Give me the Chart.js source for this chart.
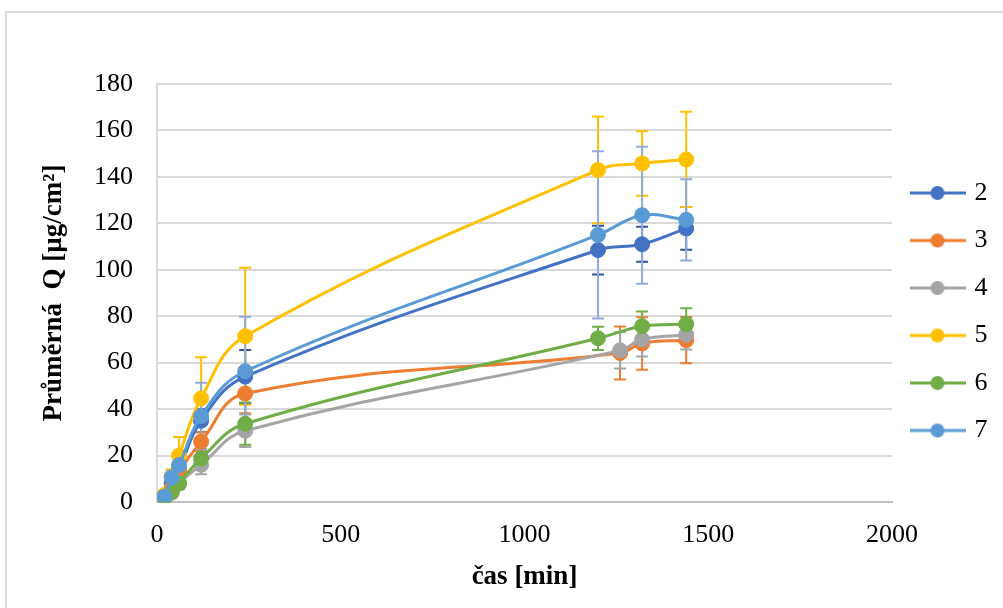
<!DOCTYPE html>
<html>
<head>
<meta charset="utf-8">
<script src="https://cdn.jsdelivr.net/npm/chart.js@4/dist/chart.umd.min.js"></script>
<style>
  html, body { margin: 0; padding: 0; background: #fff; overflow: hidden; }
  #frame { position: absolute; left: 5px; top: 11px; width: 1100px; height: 700px; border: 2px solid #d9d9d9; }
  #myChart { position: absolute; left: 0; top: 0; }
</style>
</head>
<body>
<div id="frame"></div>
<canvas id="myChart" width="1003" height="608"></canvas>
<script>
"use strict";

// time points [min]
const timesA = [20, 40, 60, 120, 240, 1200, 1320, 1440];
const timesB = [20, 40, 60, 120, 240, 1260, 1320, 1440];

// mean Q per series and its error (sd)
const q2 = [2, 8, 14, 35, 54, 108.5, 111, 117.8];
const e2 = [1, 2, 3, 5, 11.5, 10.5, 7.5, 9.2];
const q3 = [1.5, 6, 13, 26, 46.7, 64.2, 68.3, 69.7];
const e3 = [1, 2, 3, 4, 8.5, 11.4, 11.3, 10];
const q4 = [1, 4, 8, 16, 30.7, 65.3, 70, 72];
const e4 = [1, 1.5, 2.5, 4, 7, 7.8, 7.3, 6.3];
const q5 = [3, 11, 20, 44.6, 71.4, 143, 145.8, 147.5];
const e5 = [1, 3, 8, 17.7, 29.5, 23, 13.9, 20.5];
const q6 = [1, 4.4, 8, 18.8, 33.7, 70.5, 75.7, 76.6];
const e6 = [1, 1.5, 2, 4, 9.1, 5, 6.3, 6.8];
const q7 = [2.3, 10.6, 15.9, 37, 56.3, 115, 123.5, 121.5];
const e7 = [1, 3, 5, 14.4, 23.5, 36, 29.5, 17.5];

const seriesNames = ["2", "3", "4", "5", "6", "7"];
const xTicks = [0, 500, 1000, 1500, 2000];
const yTicks = [0, 20, 40, 60, 80, 100, 120, 140, 160, 180];

const colors = ["#4472c4", "#ed7d31", "#a5a5a5", "#ffc000", "#70ad47", "#5b9bd5"];
const errColors = ["#2f5597", "#ed7d31", "#a5a5a5", "#ffc000", "#70ad47", "#8faadc"];
const serif = "'Liberation Serif', 'Times New Roman', serif";

window.addEventListener("DOMContentLoaded", init);

function init() {
  const allQ = [q2, q3, q4, q5, q6, q7];
  const allE = [e2, e3, e4, e5, e6, e7];
  const allT = [timesA, timesB, timesB, timesA, timesA, timesA];

  const datasets = [];
  for (let i = 0; i < seriesNames.length; i++) {
    const pts = [];
    for (let j = 0; j < allQ[i].length; j++) {
      pts.push({ x: allT[i][j], y: allQ[i][j], err: allE[i][j] });
    }
    datasets.push({
      label: seriesNames[i],
      data: pts,
      order: seriesNames.length - i, // later series on top, like excel
      showLine: true,
      tension: 0.4,
      borderColor: colors[i],
      backgroundColor: colors[i],
      borderWidth: 3,
      pointRadius: 7.5,
      pointBorderWidth: 1,
      pointBorderColor: colors[i],
      pointBackgroundColor: colors[i],
      errColor: errColors[i],
    });
  }

  // legend marker: short line with dot in the middle
  function legendIcon(color) {
    const c = document.createElement("canvas");
    c.width = 56;
    c.height = 16;
    const g = c.getContext("2d");
    g.strokeStyle = color;
    g.lineWidth = 3;
    g.beginPath();
    g.moveTo(0, 8);
    g.lineTo(56, 8);
    g.stroke();
    g.fillStyle = color;
    g.beginPath();
    g.arc(28, 8, 7, 0, Math.PI * 2);
    g.fill();
    return c;
  }
  const icons = colors.map(legendIcon);

  const errorBars = {
    id: "errorBars",
    beforeDatasetsDraw(chart) {
      const ctx = chart.ctx;
      const xs = chart.scales.x;
      const ys = chart.scales.y;
      ctx.save();
      chart.data.datasets.forEach((ds) => {
        ctx.strokeStyle = ds.errColor;
        ctx.lineWidth = 2;
        for (let p of ds.data) {
          const px = xs.getPixelForValue(p.x);
          const top = ys.getPixelForValue(p.y + p.err);
          const bot = ys.getPixelForValue(Math.max(0, p.y - p.err));
          ctx.beginPath();
          ctx.moveTo(px, top);
          ctx.lineTo(px, bot);
          ctx.moveTo(px - 6, top);
          ctx.lineTo(px + 6, top);
          ctx.moveTo(px - 6, bot);
          ctx.lineTo(px + 6, bot);
          ctx.stroke();
        }
      });
      ctx.restore();
    },
  };

  const ctx = document.getElementById("myChart").getContext("2d");
  new Chart(ctx, {
    type: "scatter",
    data: { datasets: datasets },
    plugins: [errorBars],
    options: {
      responsive: false,
      animation: false,
      layout: { padding: { left: 10, right: 5.5, top: 84, bottom: 14.8 } },
      plugins: {
        tooltip: { enabled: false },
        legend: {
          position: "right",
          align: "start",
          title: { display: true, text: " ", font: { size: 10 }, padding: { top: 31.25, bottom: 31.25 } },
          labels: {
            usePointStyle: true,
            pointStyleWidth: 48,
            padding: 21.5,
            color: "#000",
            font: { family: serif, size: 26 },
            sort: (a, b) => a.datasetIndex - b.datasetIndex,
            generateLabels(chart) {
              const items = Chart.defaults.plugins.legend.labels.generateLabels(chart);
              items.forEach((it) => { it.pointStyle = icons[it.datasetIndex]; });
              return items;
            },
          },
        },
      },
      scales: {
        x: {
          type: "linear",
          min: 0,
          max: 2000,
          afterBuildTicks(axis) { axis.ticks = xTicks.map((v) => ({ value: v })); },
          grid: { display: false, drawTicks: false },
          border: { display: true, color: "#bfbfbf", width: 2 },
          ticks: {
            color: "#000",
            padding: 18,
            font: { family: serif, size: 26 },
            callback: (v) => String(v),
          },
          title: {
            display: true,
            text: "čas [min]",
            color: "#000",
            font: { family: serif, size: 27, weight: "bold" },
            padding: { top: -8.4, bottom: 0 },
          },
        },
        y: {
          type: "linear",
          min: 0,
          max: 180,
          afterBuildTicks(axis) { axis.ticks = yTicks.map((v) => ({ value: v })); },
          grid: { color: "#d9d9d9", lineWidth: 2, drawTicks: false },
          border: { display: true, color: "#d9d9d9", width: 2 },
          ticks: {
            color: "#000",
            padding: 24,
            font: { family: serif, size: 26 },
            callback: (v) => String(v),
          },
          title: {
            display: true,
            text: "Průměrná  Q [µg/cm²]",
            color: "#000",
            font: { family: serif, size: 27, weight: "bold" },
            padding: { top: 27.6, bottom: 0 },
          },
        },
      },
    },
  });
}
</script>
</body>
</html>
